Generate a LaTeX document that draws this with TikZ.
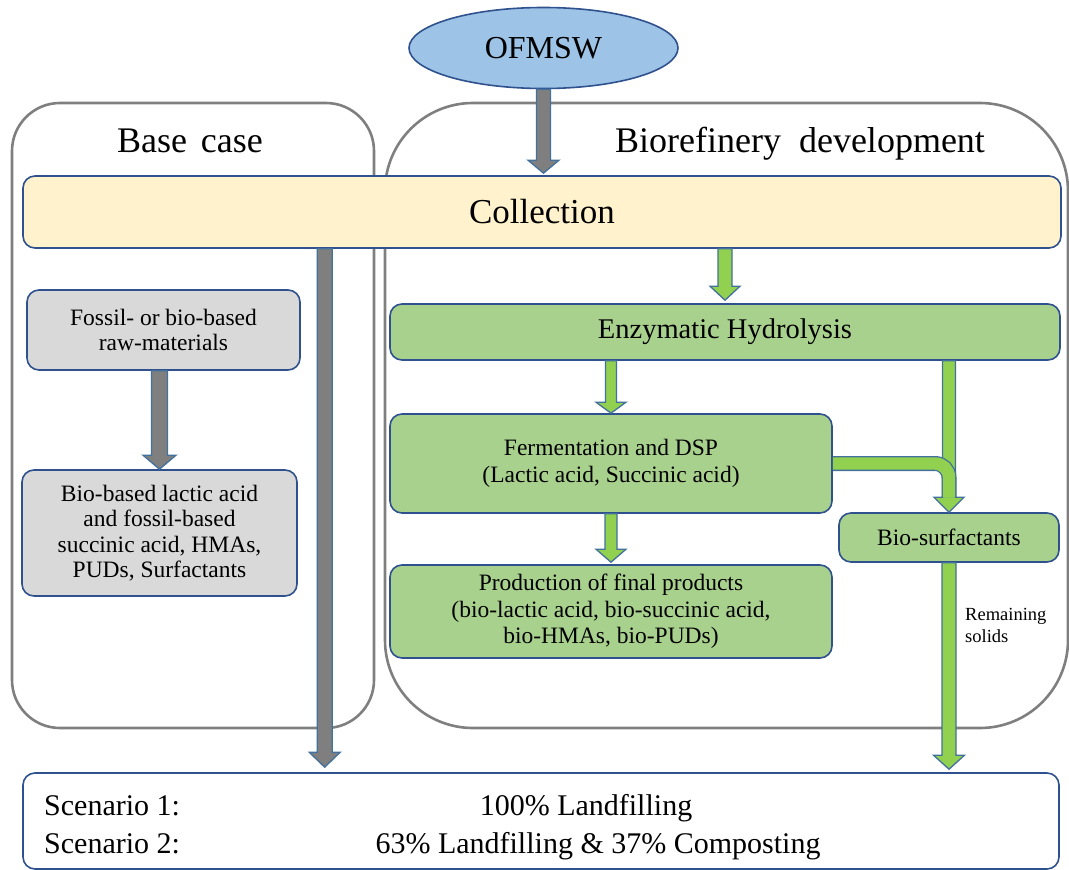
\documentclass[tikz,border=0pt]{standalone}
\usepackage{fontspec}
\setmainfont{Liberation Serif}
\usetikzlibrary{calc,shapes.geometric}

\definecolor{contgray}{HTML}{7F7F7F}
\definecolor{navy}{HTML}{2F528F}
\definecolor{skyfill}{HTML}{9DC3E6}
\definecolor{cream}{HTML}{FFF2CC}
\definecolor{paleGray}{HTML}{D9D9D9}
\definecolor{leaf}{HTML}{A9D18E}
\definecolor{lime}{HTML}{92D050}
\definecolor{steel}{HTML}{41719C}
\definecolor{arrowgray}{HTML}{7F7F7F}

\newcommand\setfs[2]{\fontsize{#1}{#2}\selectfont}

% vertical block arrow: style, start point, tip point, half shaft, half head, head length
\newcommand\blockarrow[6]{%
  \path[#1] let \p1=#2, \p2=#3 in
    (\x1-#4,\y1) -- (\x1-#4,\y2+#6) -- (\x1-#5,\y2+#6) -- (\x1,\y2)
    -- (\x1+#5,\y2+#6) -- (\x1+#4,\y2+#6) -- (\x1+#4,\y1) -- cycle;}

\tikzset{
  container/.style={draw=contgray, line width=2.6pt, inner sep=0pt},
  box/.style={draw=navy, line width=1.6pt, rounded corners=12pt, inner sep=0pt, align=center},
  greenbox/.style={box, fill=leaf, font=\setfs{23.5}{26.5}},
  graybox/.style={box, fill=paleGray, font=\setfs{23.5}{25.5}},
  title/.style={anchor=base, font=\setfs{36}{40}},
  grayarrow/.style={fill=arrowgray, draw=steel, line width=1.3pt, line join=miter},
  greenarrow/.style={fill=lime, draw=steel, line width=1.3pt, line join=miter},
  scen/.style={anchor=base, font=\setfs{30}{34}, inner sep=0pt},
}

\begin{document}
\begin{tikzpicture}[x=1pt,y=-1pt]
\useasboundingbox (0,0) rectangle (1069,870);

% the two frames
\node[container, rounded corners=48pt, minimum width=362pt, minimum height=625pt] (base) at (193,415.5) {};
\node[container, rounded corners=88pt, minimum width=683pt, minimum height=625pt] (bioref) at (726.5,415.5) {};
\node[title] (basetitle) at (190,152) {Base\hspace{0.38em}case};
\node[title] (biotitle) at (800,152) {Biorefinery\hspace{0.5em}development};

% feedstock and collection
\node[ellipse, draw=navy, line width=1.6pt, fill=skyfill, minimum width=269pt, minimum height=81pt,
      inner sep=0pt, font=\setfs{32}{36}] (ofm) at (543.5,48) {OFMSW};
\node[box, fill=cream, minimum width=1038pt, minimum height=72pt, font=\setfs{35}{40}] (coll) at (542,212) {Collection};

% base case chain
\node[graybox, minimum width=273pt, minimum height=80pt] (fossil) at (163.5,330) {Fossil- or bio-based\\raw-materials};
\node[graybox, minimum width=275pt, minimum height=126pt] (bb) at (159.5,533) {Bio-based lactic acid\\and fossil-based\\succinic acid, HMAs,\\PUDs, Surfactants};

% biorefinery chain
\node[greenbox, minimum width=670pt, minimum height=56pt, font=\setfs{28.5}{32}] (enz) at (725,332) {Enzymatic Hydrolysis};
\node[greenbox, minimum width=442pt, minimum height=99pt] (ferm) at (611,463.5) {Fermentation and DSP\\(Lactic acid, Succinic acid)};
\node[greenbox, minimum width=442pt, minimum height=93pt] (prod) at (611,611.5) {Production of final products\\(bio-lactic acid, bio-succinic acid,\\bio-HMAs, bio-PUDs)};
\node[greenbox, minimum width=220pt, minimum height=49pt] (bios) at (949,537.5) {Bio-surfactants};

% end-of-life box
\node[box, fill=white, minimum width=1036pt, minimum height=96pt] (bot) at (541,821) {};
\node[scen, anchor=base west] (s1) at (44,815) {Scenario 1:};
\node[scen, anchor=base west] (s2) at (44,853) {Scenario 2:};
\node[scen] (s1t) at (586,815) {100\% Landfilling};
\node[scen] (s2t) at (598,853) {63\% Landfilling \& 37\% Composting};

% arrows
\blockarrow{grayarrow}{(ofm.south)}{([yshift=2pt]coll.north)}{7pt}{15.5pt}{13pt}
\coordinate (gtop) at ($(coll.south west)+(302.5,0)$);
\blockarrow{grayarrow}{(gtop)}{([yshift=5pt]bot.north)}{7.5pt}{15.5pt}{15pt}
\blockarrow{grayarrow}{(bb.north |- fossil.south)}{(bb.north)}{8pt}{16.5pt}{14pt}
\blockarrow{greenarrow}{(enz.north |- coll.south)}{([yshift=3pt]enz.north)}{7pt}{15pt}{14pt}
\blockarrow{greenarrow}{(ferm.north |- enz.south)}{(ferm.north)}{5.5pt}{15pt}{11pt}
\blockarrow{greenarrow}{(ferm.south)}{([yshift=2pt]prod.north)}{6pt}{15pt}{13pt}
\blockarrow{greenarrow}{(bios.north |- enz.south)}{(bios.north)}{6.5pt}{15pt}{15pt}
% bent arrow from fermentation joining the bio-surfactants head
\draw[rounded corners=14pt, line width=15pt, draw=steel]
  (ferm.east) -- (ferm.east -| bios.north) -- ([yshift=15pt]bios.north);
\draw[rounded corners=14pt, line width=12.4pt, draw=lime]
  (ferm.east) -- (ferm.east -| bios.north) -- ([yshift=15pt]bios.north);
\blockarrow{greenarrow}{(bios.south)}{([yshift=3pt]bot.north)}{7pt}{15.5pt}{14pt}

\node[anchor=west, align=left, inner sep=0pt, font=\setfs{18.5}{22}] (rem) at (965,625) {Remaining\\solids};
\end{tikzpicture}
\end{document}
